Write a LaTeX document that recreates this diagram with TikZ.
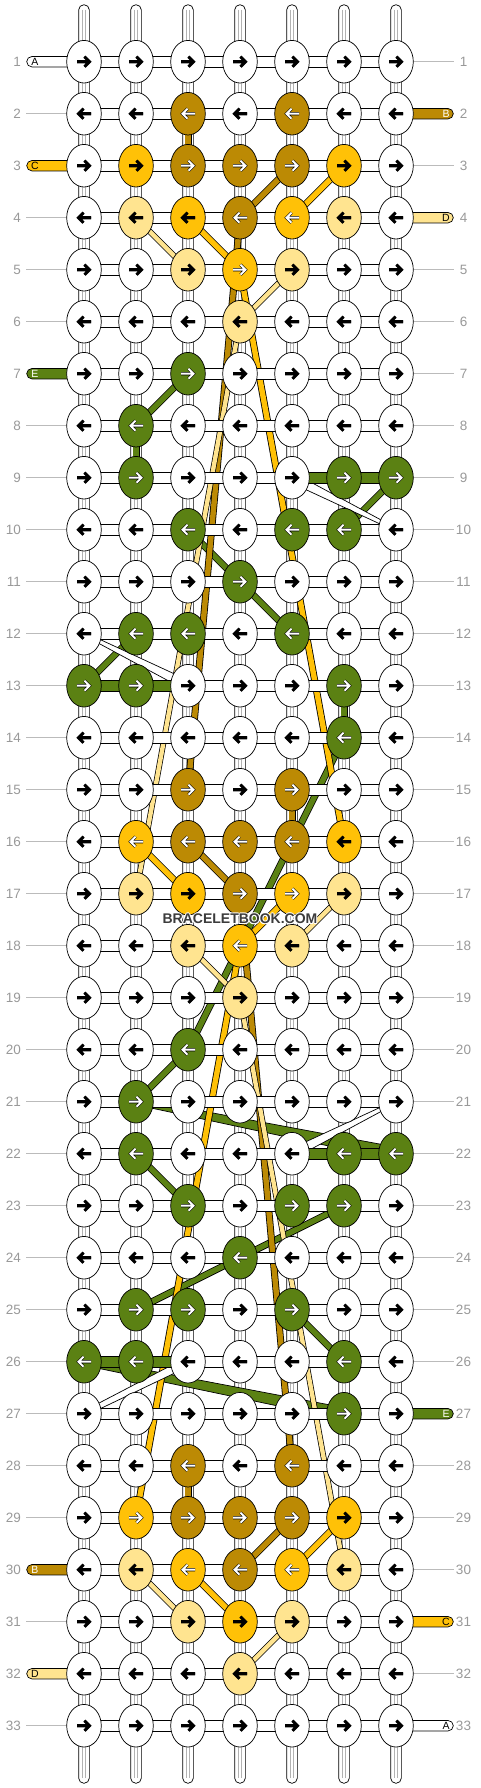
\documentclass[tikz,border=0pt]{standalone}
\usepackage{fontspec}
\setmainfont{Liberation Sans}
\usetikzlibrary{shapes.geometric, calc}
\pgfdeclarelayer{tubes}
\pgfdeclarelayer{strands}
\pgfsetlayers{tubes,strands,main}
\definecolor{colW}{HTML}{FFFFFF}
\definecolor{colB}{HTML}{BC8A04}
\definecolor{colC}{HTML}{FFC107}
\definecolor{colD}{HTML}{FFE490}
\definecolor{colE}{HTML}{5B8113}
\definecolor{numgray}{HTML}{999999}
\definecolor{rulegray}{HTML}{BBBBBB}
\definecolor{wmgray}{HTML}{3C3C3C}

\begin{document}
\begin{tikzpicture}[x=1pt, y=-1pt,
    knot/.style={ellipse, draw=black, line width=0.7pt, minimum width=34.6pt, minimum height=42.6pt, inner sep=0pt},
    strand/.style={draw=black, line width=0.8pt, double distance=5.4pt},
    thinstrand/.style={draw=black, line width=0.7pt, double distance=4.4pt},
    link/.style={draw=black, line width=0.7pt},
    tubebox/.style={draw=black, fill=white, line width=0.7pt, rounded corners=5.3pt},
    endbox/.style={draw=black, line width=0.7pt, rounded corners=5.2pt},
    rownum/.style={text=numgray, font=\fontsize{13.5}{14}\selectfont, inner sep=0pt},
    endlab/.style={font=\fontsize{10.5}{11}\selectfont, inner sep=0pt},
    wmark/.style={font=\bfseries\fontsize{14}{14}\selectfont, inner sep=0pt},
    arr/.pic={\draw[line cap=butt, line join=miter] (-7,0) -- (5.5,0) (0.5,-5) -- (5.5,0) -- (0.5,5);}
  ]
  \useasboundingbox (0,0) rectangle (480,1788);
  \def\dx{52} \def\dy{52}
  % strand that widens from one knot to the next: from, to, half width at each end, colour
  \def\taper#1#2#3#4#5{%
    \draw[black, line width=0.7pt, fill=#5]
      let \p1=(k-#1.center), \p2=(k-#2.center), \n1={atan2(\y2-\y1,\x2-\x1)} in
      ($(\p1)+(\n1+90:#3pt)$) -- ($(\p2)+(\n1+90:#4pt)$) -- ($(\p2)+(\n1-90:#4pt)$) -- ($(\p1)+(\n1-90:#3pt)$) -- cycle;}

  % coloured knots: row/column/colour/arrow
  \foreach \r/\c/\k/\a in {
    2/3/B/white, 2/5/B/white,
    3/2/C/black, 3/3/B/white, 3/4/B/white, 3/5/B/white, 3/6/C/black,
    4/2/D/black, 4/3/C/black, 4/4/B/white, 4/5/C/white, 4/6/D/black,
    5/3/D/black, 5/4/C/white, 5/5/D/black,
    6/4/D/black,
    7/3/E/white, 8/2/E/white,
    9/2/E/white, 9/6/E/white, 9/7/E/white,
    10/3/E/white, 10/5/E/white, 10/6/E/white,
    11/4/E/white,
    12/2/E/white, 12/3/E/white, 12/5/E/white,
    13/1/E/white, 13/2/E/white, 13/6/E/white,
    14/6/E/white,
    15/3/B/white, 15/5/B/white,
    16/2/C/white, 16/3/B/white, 16/4/B/white, 16/5/B/white, 16/6/C/black,
    17/2/D/black, 17/3/C/black, 17/4/B/white, 17/5/C/white, 17/6/D/black,
    18/3/D/black, 18/4/C/white, 18/5/D/black,
    19/4/D/black,
    20/3/E/white, 21/2/E/white,
    22/2/E/white, 22/6/E/white, 22/7/E/white,
    23/3/E/white, 23/5/E/white, 23/6/E/white,
    24/4/E/white,
    25/2/E/white, 25/3/E/white, 25/5/E/white,
    26/1/E/white, 26/2/E/white, 26/6/E/white,
    27/6/E/white,
    28/3/B/white, 28/5/B/white,
    29/2/C/white, 29/3/B/white, 29/4/B/white, 29/5/B/white, 29/6/C/black,
    30/2/D/black, 30/3/C/white, 30/4/B/white, 30/5/C/white, 30/6/D/black,
    31/3/D/black, 31/4/C/black, 31/5/D/black,
    32/4/D/black}
    {\expandafter\xdef\csname kc-\r-\c\endcsname{\k}%
     \expandafter\xdef\csname ka-\r-\c\endcsname{\a}}
  % green links between knots
  \foreach \r/\c in {9/5, 9/6, 13/1, 13/2, 22/5, 22/6, 26/1, 26/2}
    {\expandafter\xdef\csname lc-\r-\c\endcsname{E}}

  % knots
  \foreach \r in {1,...,33} {
    \foreach \c in {1,...,7} {
      \ifcsname kc-\r-\c\endcsname
        \edef\kc{\csname kc-\r-\c\endcsname}\edef\ka{\csname ka-\r-\c\endcsname}%
      \else
        \def\kc{W}\def\ka{black}%
      \fi
      \node[knot, fill=col\kc] (k-\r-\c) at ({84+\dx*(\c-1)}, {61.7+\dy*(\r-1)}) {};
      \ifodd\r \def\dir{1}\else \def\dir{-1}\fi
      \pic[color=black, line width=3.1pt, xscale=\dir] at (k-\r-\c.center) {arr};
      \pic[color=\ka, line width=2pt, xscale=\dir] at (k-\r-\c.center) {arr};
    }
    \node[rownum, anchor=east] (ln-\r) at ([xshift=-63pt]k-\r-1.center) {\r};
    \node[rownum] (rn-\r) at ([xshift=67.5pt]k-\r-7.center) {\r};
  }

  \begin{pgfonlayer}{tubes}
    \foreach \c in {1,...,7} {
      \draw[tubebox] ([xshift=-5.35pt, yshift=57pt]k-1-\c.center) rectangle ([xshift=5.35pt, yshift=-57.6pt]k-33-\c.center);
      \foreach \s in {-1.6,1.6}
        \draw[black!30, line width=0.5pt] ([xshift=\s pt, yshift=52pt]k-1-\c.center) -- ([xshift=\s pt, yshift=-52pt]k-33-\c.center);
    }
    \foreach \r in {1,...,33} {
      \draw[rulegray, line width=0.8pt] ([xshift=5pt]ln-\r.east) -- (k-\r-1.center);
      \draw[rulegray, line width=0.8pt] (k-\r-7.center) -- ([xshift=58pt]k-\r-7.center);
    }
  \end{pgfonlayer}

  \begin{pgfonlayer}{strands}
    \foreach \a/\b in {7-3/8-2, 8-2/9-2, 9-7/10-6, 10-3/11-4, 11-4/12-5, 13-1/12-2, 13-6/14-6, 14-6/20-3,
                       20-3/21-2, 22-2/23-3, 23-6/24-4, 24-4/25-2, 25-5/26-6}
      \draw[strand, double=colE] (k-\a.center) -- (k-\b.center);
    \taper{21-2}{22-7}{3}{6.5}{colE}
    \taper{26-1}{27-6}{3.5}{6}{colE}
    \foreach \a/\b in {2-3/3-3, 3-5/4-4, 4-4/15-3, 15-5/16-5, 16-3/17-4, 17-4/28-5, 28-3/29-3, 29-5/30-4}
      \draw[strand, double=colB] (k-\a.center) -- (k-\b.center);
    \foreach \a/\b in {3-6/4-5, 4-3/5-4, 5-4/16-6, 16-2/17-3, 17-5/18-4, 18-4/29-2, 29-6/30-5, 30-3/31-4}
      \draw[strand, double=colC] (k-\a.center) -- (k-\b.center);
    \foreach \a/\b in {4-2/5-3, 5-5/6-4, 6-4/17-2, 17-6/18-5, 18-3/19-4, 19-4/30-6, 30-2/31-3, 31-5/32-4}
      \draw[thinstrand, double=colD] (k-\a.center) -- (k-\b.center);
    \taper{9-5}{10-7}{5}{1.5}{white}
    \taper{12-1}{13-3}{1.5}{5}{white}
    \taper{21-7}{22-5}{1.5}{5}{white}
    \taper{26-3}{27-1}{4.5}{2.5}{white}

    % links along each row
    \foreach \r in {1,...,33} {
      \foreach \c [count=\n from 2] in {1,...,6} {
        \ifcsname lc-\r-\c\endcsname
          \edef\lc{col\csname lc-\r-\c\endcsname}%
        \else
          \def\lc{white}%
        \fi
        \draw[link, fill=\lc] ([yshift=5.2pt]k-\r-\c.center) rectangle ([yshift=-5.2pt]k-\r-\n.center);
      }
    }

    % loose ends
    \foreach \r/\k/\t/\l in {1/W/black/A, 3/C/black/C, 7/E/white/E, 30/B/white/B, 32/D/black/D} {
      \draw[endbox, fill=col\k] ([xshift=-57.3pt, yshift=5.2pt]k-\r-1.center) rectangle ([yshift=-5.2pt]k-\r-1.center);
      \node[endlab, text=\t] (el-\r) at ([xshift=-49pt]k-\r-1.center) {\l};
    }
    \foreach \r/\k/\t/\l in {2/B/white/B, 4/D/black/D, 27/E/white/E, 31/C/black/C, 33/W/black/A} {
      \draw[endbox, fill=col\k] ([yshift=5.2pt]k-\r-7.center) rectangle ([xshift=57.3pt, yshift=-5.2pt]k-\r-7.center);
      \node[endlab, text=\t] (er-\r) at ([xshift=50pt]k-\r-7.center) {\l};
    }
  \end{pgfonlayer}

  \foreach \a in {0,45,...,315}
    \node[wmark, text=white] (halo-\a) at ([shift={(\a:1pt)}, yshift=-25.3pt]k-17-4.center) {BRACELETBOOK.COM};
  \node[wmark, text=wmgray] (brand) at ([yshift=-25.3pt]k-17-4.center) {BRACELETBOOK.COM};
\end{tikzpicture}
\end{document}
